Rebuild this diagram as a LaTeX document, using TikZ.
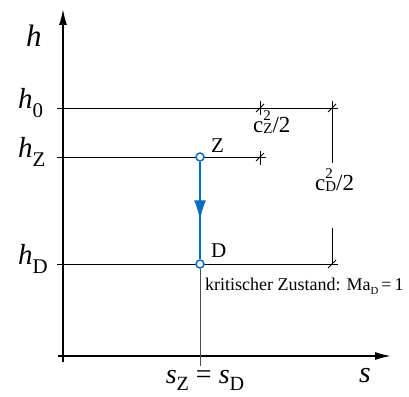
\documentclass[tikz,border=0pt]{standalone}
\usepackage{fontspec}
\setmainfont{Liberation Serif}
\usetikzlibrary{arrows.meta,decorations.markings}
\definecolor{bl}{RGB}{10,110,190}
\newcommand{\sbs}[1]{\raisebox{-0.32em}{\scalebox{0.72}{#1}}}
\newcommand{\sbl}[1]{\raisebox{-0.26em}{\scalebox{0.72}{#1}}}
\newcommand{\csq}[1]{c\rlap{\raisebox{0.52em}{\scalebox{0.65}{2}}}\raisebox{-0.08em}{\scalebox{0.65}{#1}}/2}
\begin{document}
\begin{tikzpicture}[x=1pt,y=-1pt,
  axis/.style={line width=2.4pt,-{Latex[length=17pt,width=8pt]}},
  thin/.style={line width=0.9pt},
  tk/.style={line width=0.8pt},
  lbl/.style={inner sep=0pt,font=\fontsize{29}{31}\selectfont},
  pt/.style={circle,draw=bl,fill=white,line width=1.5pt,minimum size=8pt,inner sep=0pt}]
\useasboundingbox (0,0) rectangle (409,396);
% axes
\coordinate (ytop) at (63,8);
\coordinate (xend) at (392,356);
\draw[axis] (63,362) -- (ytop);
\draw[axis] (58,356) -- (xend);
% horizontal lines
\coordinate (h0l) at (57,108); \coordinate (h0r) at (338,108);
\coordinate (hzl) at (57,157); \coordinate (hzr) at (266,157);
\coordinate (hdl) at (57,264); \coordinate (hdr) at (338,264);
\draw[thin] (h0l) -- (h0r);
\draw[thin] (hzl) -- (hzr);
\draw[thin] (hdl) -- (hdr);
% points
\node[pt] (Z) at (200,157) {};
\node[pt] (D) at (200,264) {};
\coordinate (sb) at (200,366);
\draw[line width=0.6pt,black!70] (D) -- (sb);
\draw[line width=2pt,bl,decoration={markings,mark=at position 0.6 with {\arrow{Latex[length=20pt,width=12pt]}}},postaction={decorate}] (Z) -- (D);
% dimension lines
\coordinate (a1) at (260,101); \coordinate (a2) at (260,115);
\coordinate (a3) at (260,151); \coordinate (a4) at (260,165);
\draw[tk] (a1) -- (a2) (a3) -- (a4);
\draw[tk] (256,112) -- (264,104);
\draw[tk] (256,161) -- (264,153);
\coordinate (b1) at (332,101); \coordinate (b2) at (332,163);
\coordinate (b3) at (332,228); \coordinate (b4) at (332,264);
\draw[tk] (b1) -- (b2) (b3) -- (b4);
\draw[tk] (328,112) -- (336,104);
\draw[tk] (328,268) -- (336,260);
% labels
\node[lbl,anchor=base west,font=\fontsize{31}{33}\selectfont\itshape] (lh) at (26,47) {h};
\node[lbl,anchor=base west] (l0) at (18,108) {\textit{h}\sbs{0}};
\node[lbl,anchor=base west] (lz) at (18,157) {\textit{h}\sbs{Z}};
\node[lbl,anchor=base west] (ld) at (18,264) {\textit{h}\sbs{D}};
\node[lbl,anchor=base west,font=\fontsize{21}{23}\selectfont] (tz) at (211,152) {Z};
\node[lbl,anchor=base west,font=\fontsize{21}{23}\selectfont] (td) at (211,257) {D};
\node[lbl,anchor=base west,font=\fontsize{23}{25}\selectfont] (cz) at (253,132) {\csq{Z}};
\node[lbl,anchor=base west,font=\fontsize{23}{25}\selectfont] (cd) at (315,190) {\csq{D}};
\node[lbl,anchor=base west,font=\fontsize{18}{20}\selectfont] (kz) at (205,290) {kritischer Zustand: Ma\raisebox{-0.25em}{\scalebox{0.6}{D}}\,=\,1};
\node[lbl,anchor=base,font=\fontsize{28}{30}\selectfont] (sz) at (205,383) {\textit{s}\sbl{Z} = \textit{s}\sbl{D}};
\node[lbl,anchor=base west,font=\fontsize{30}{32}\selectfont\itshape] (ls) at (359,382) {s};
\end{tikzpicture}
\end{document}
